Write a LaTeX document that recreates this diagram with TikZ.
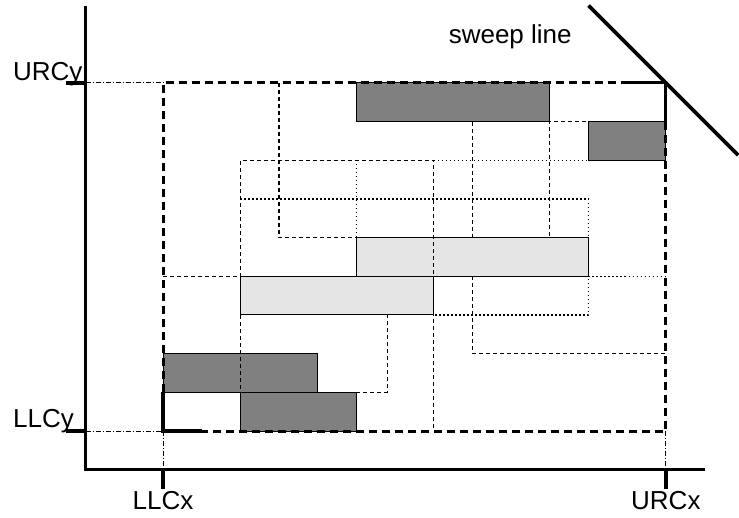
\documentclass[tikz,border=0pt]{standalone}
\usepackage{fontspec}
\setmainfont{Liberation Sans}
\begin{document}
\begin{tikzpicture}[x=38.68pt,y=38.68pt,
  darkbox/.style={fill=black!50, draw=black, line width=1pt},
  lightbox/.style={fill=black!10, draw=black, line width=1pt},
  bigdash/.style={line width=3pt, dash pattern=on 8pt off 5pt},
  cornermark/.style={line width=3.2pt, line join=miter},
  thindash/.style={line width=1.3pt, dash pattern=on 4pt off 3pt},
  thindot/.style={line width=1.3pt, dash pattern=on 1.2pt off 2.8pt},
  projline/.style={line width=0.9pt, dash pattern=on 5pt off 2pt on 1pt off 2pt},
  axisline/.style={line width=3.4pt, line join=miter},
  lbl/.style={font=\fontsize{26}{30}\selectfont, inner sep=0pt}]
\useasboundingbox (-4.214,-2.223) rectangle (14.891,11.143);

% corner points of the query window
\coordinate (llc) at (0,0);
\coordinate (urc) at (13,9);

% data rectangles
\draw[darkbox]  (5,8) rectangle (10,9);
\draw[darkbox]  (11,7) rectangle (13,8);
\draw[darkbox]  (0,1) rectangle (4,2);
\draw[darkbox]  (2,0) rectangle (5,1);
\draw[lightbox] (5,4) rectangle (11,5);
\draw[lightbox] (2,3) rectangle (7,4);

% dashed regions
\draw[thindash] (3,9) -- (3,5) -- (10,5) -- (10,8) -- (11,8);
\draw[thindash] (8,8) -- (8,5);
\draw[thindash] (8,4) -- (8,2) -- (13,2);
\draw[thindash] (2,0) -- (2,7) -- (7,7) -- (7,0);
\draw[thindash] (0,4) -- (2,4);
\draw[thindash] (5,1) -- (5.8,1) -- (5.8,3);

% dotted regions
\draw[thindot] (2,6) -- (11,6) -- (11,3) -- (7,3);
\draw[thindot] (5,7) -- (5,5);
\draw[thindot] (7,7) -- (11,7);
\draw[thindot] (11,4) -- (13,4);

% query window with its two corners
\draw[bigdash] (0,1) -- (0,9) -- (12,9);
\draw[bigdash] (13,8) -- (13,0) -- (1,0);
\draw[cornermark] (12,9) -- (urc) -- (13,8);
\draw[cornermark] (0,1) -- (llc) -- (1,0);

% projections onto the axes
\draw[projline] (-2,9) -- (0,9);
\draw[projline] (-2,0) -- (llc);
\draw[projline] (llc) -- (0,-1);
\draw[projline] (13,0) -- (13,-1);

% axes and ticks
\draw[axisline] (-2,11) -- (-2,-1) -- (14,-1);
\draw[axisline] (-2.5,9) -- (-2,9);
\draw[axisline] (-2.5,0) -- (-2,0);
\draw[axisline] (0,-1) -- (0,-1.5);
\draw[axisline] (13,-1) -- (13,-1.5);

% sweep line through the upper right corner
\coordinate (sweepA) at (11,11);
\coordinate (sweepB) at (14.87,7.13);
\draw[line width=3.6pt] (sweepA) -- (sweepB);

% labels
\node[lbl, anchor=base west] (urcy) at (-3.88,9.07) {URCy};
\node[lbl, anchor=base west] (llcy) at (-3.88,0.08) {LLCy};
\node[lbl, anchor=base] (llcx) at (0,-2.04) {LLCx};
\node[lbl, anchor=base] (urcx) at (13,-2.04) {URCx};
\node[lbl, anchor=base east] (sweep) at (10.57,10.03) {sweep line};
\end{tikzpicture}
\end{document}
